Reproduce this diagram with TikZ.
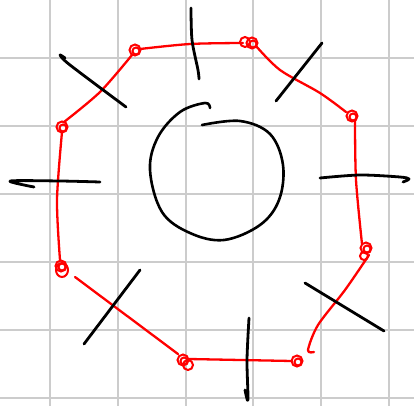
\documentclass[tikz,border=0pt]{standalone}
\usepackage{tikz}
\usetikzlibrary{calc}

\begin{document}
\begin{tikzpicture}[
    x=1pt, y=-1pt,
    gridline/.style={black!20, line width=1.6pt},
    loop/.style={red, line width=2.3pt, line cap=round, line join=round},
    knot/.style={red, line width=2pt},
    tick/.style={black, line width=2.8pt, line cap=round, line join=round},
    ring/.style={black, line width=2.6pt, line cap=round, line join=round},
]
\useasboundingbox (0,0) rectangle (414,406);
\fill[white] (0,0) rectangle (414,406);

% =====================================================================
% Grid paper
% =====================================================================
\foreach \x in {50,118,186,253,321,389} {
    \draw[gridline] (\x,0) -- (\x,406);
}
\foreach \y in {58,126,194,262,330,398} {
    \draw[gridline] (0,\y) -- (414,\y);
}

% =====================================================================
% Central circle (open stroke)
% =====================================================================
\draw[ring] plot[smooth, tension=0.6] coordinates {
    (202,125) (240,121) (270,134) (283,165) (279,200) (260,225)
    (224,240) (190,233) (162,212) (150,170) (158,137) (180,112)
    (205,103) (210,108)};

% =====================================================================
% Red loop with knots at the corners
% =====================================================================
% knots (scribbled twice)
\foreach \p in {(135,50),(252,43),(352,116),(366,248),(297,361),(183,360),(61,266),(62,127)} {
    \draw[knot] \p circle (5.5);
    \draw[knot] \p ++(1,1) circle (3.5);
}
\draw[knot] (245,42) circle (5);
\draw[knot] (188,365) circle (5);
\draw[knot] (62,270) ellipse (6 and 7);
\draw[knot] (364,256) circle (4);

% strokes between the knots
\draw[loop] plot[smooth] coordinates {(140,49) (190,44) (243,43)};
\draw[loop] plot[smooth] coordinates {(256,46) (280,70) (320,93) (346,112)};
\draw[loop] plot[smooth] coordinates {(355,121) (356,180) (362,244)};
\draw[loop] plot[smooth] coordinates {(369,255) (345,290) (318,325) (308,350) (314,352)};
\draw[loop] (292,361) -- (189,359);
\draw[loop] (178,354) -- (75,277);
\draw[loop] plot[smooth] coordinates {(60,260) (57,200) (62,132)};
\draw[loop] plot[smooth] coordinates {(64,122) (100,92) (132,55)};

% =====================================================================
% Black radial ticks across the loop
% =====================================================================
\draw[tick] plot[smooth] coordinates {(191,8) (192,40) (198,70) (199,79)};
\draw[tick] (276,101) -- (322,43);
\draw[tick] plot[smooth] coordinates {(320,178) (360,175) (400,177) (409,179) (403,182)};
\draw[tick] (305,283) -- (384,331);
\draw[tick] plot[smooth] coordinates {(249,318) (247,360) (248,400) (245,390)};
\draw[tick] (84,344) -- (140,270);
\draw[tick] plot[smooth] coordinates {(34,187) (10,181) (60,181) (100,182)};
\draw[tick] plot[smooth] coordinates {(65,58) (60,55) (70,65) (126,107)};

\end{tikzpicture}
\end{document}
